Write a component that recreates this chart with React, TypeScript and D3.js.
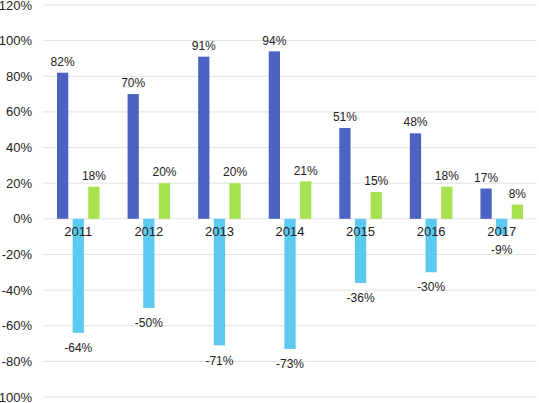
import * as d3 from "d3";

const years = ["2011", "2012", "2013", "2014", "2015", "2016", "2017"];
const seriesA = [82, 70, 91, 94, 51, 48, 17];
const seriesB = [-64, -50, -71, -73, -36, -30, -9];
const seriesC = [18, 20, 20, 21, 15, 18, 8];
const yTicks = [120, 100, 80, 60, 40, 20, 0, -20, -40, -60, -80, -100];

const colors = ["#4d63c4", "#5ccaf0", "#a6e250"];

const width = 539;
const height = 403;
const left = 43;
const right = 537;

export default function App() {
  const y = d3.scaleLinear().domain([-100, 120]).range([397, 5]);
  const x = d3.scaleBand().domain(years).range([left, right]).paddingInner(0).paddingOuter(0);
  const inner = d3
    .scaleBand<number>()
    .domain([0, 1, 2])
    .range([14, x.bandwidth() - 14])
    .paddingInner(0.28)
    .paddingOuter(0);

  const series = [seriesA, seriesB, seriesC];
  const font = "'Liberation Sans', Arial, sans-serif";

  return (
    <svg
      width={width}
      height={height}
      style={{ position: "absolute", left: 0, top: 0, background: "#fff" }}
      fontFamily={font}
    >
      {/* grid */}
      {yTicks.map((t) => (
        <g key={t}>
          <line x1={left} x2={right} y1={y(t)} y2={y(t)} stroke="#e2e2e2" strokeWidth={1} />
          <text x={32} y={y(t)} dy="0.35em" textAnchor="end" fontSize={13} fill="#222">
            {t}%
          </text>
        </g>
      ))}

      {/* bars */}
      {years.map((yr, i) =>
        series.map((s, k) => {
          const v = s[i];
          const bx = x(yr)! + inner(k)!;
          const bw = inner.bandwidth();
          return (
            <g key={yr + k}>
              <rect
                x={bx}
                width={bw}
                y={Math.min(y(v), y(0))}
                height={Math.abs(y(v) - y(0))}
                fill={colors[k]}
              />
              <text
                x={bx + bw / 2}
                y={v >= 0 ? y(v) - 11 : y(v) + 15}
                dy="0.35em"
                textAnchor="middle"
                fontSize={12}
                fill="#222"
              >
                {v}%
              </text>
            </g>
          );
        })
      )}

      {/* category labels */}
      {years.map((yr) => (
        <text
          key={yr}
          x={x(yr)! + x.bandwidth() / 2}
          y={y(0) + 13}
          dy="0.35em"
          textAnchor="middle"
          fontSize={13}
          fill="#222"
        >
          {yr}
        </text>
      ))}
    </svg>
  );
}
